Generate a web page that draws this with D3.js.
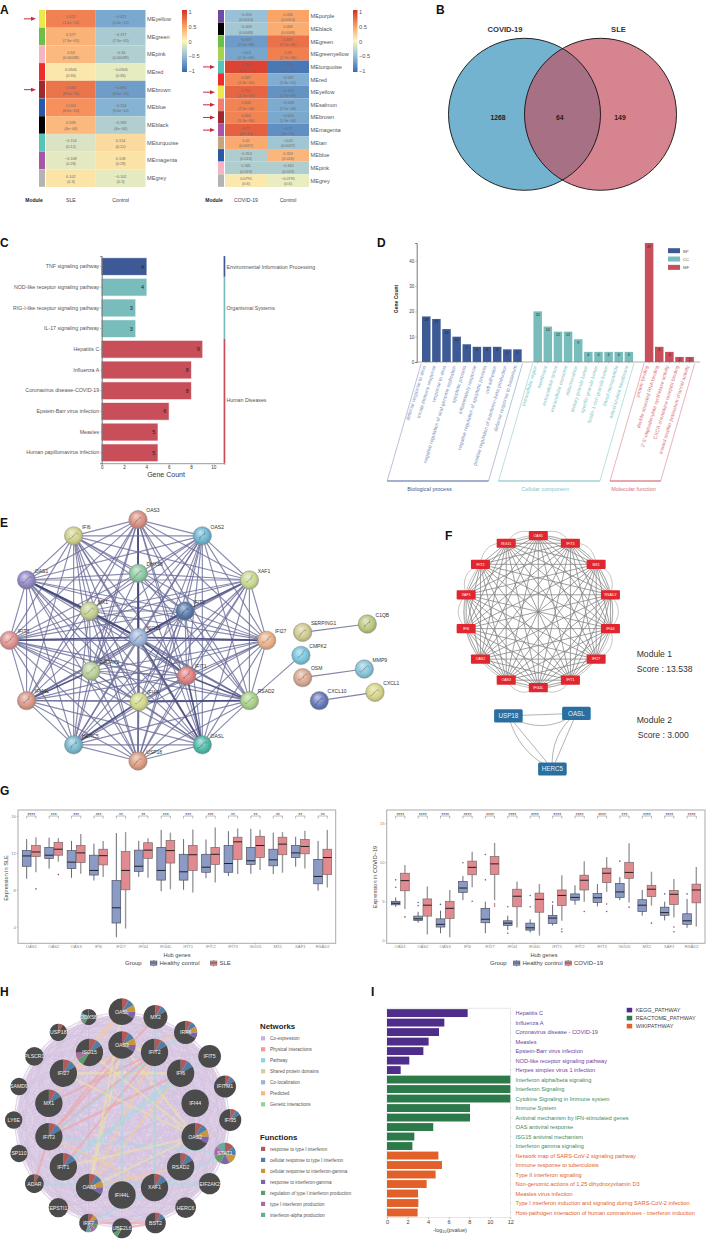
<!DOCTYPE html>
<html><head><meta charset="utf-8">
<style>html,body{margin:0;padding:0;background:#fff}svg{display:block}text{font-family:"Liberation Sans",Arial,sans-serif}</style>
<script src="https://cdn.jsdelivr.net/npm/d3@7/dist/d3.min.js"></script></head><body>
<svg id="c" width="707" height="1240"></svg>
<script>
// ---------- A
const slModules=["yellow","green","pink","red","brown","blue","black","turquoise","magenta","grey"];
const slR=[0.622,0.377,0.34,0.0906,0.684,0.554,0.339,-0.154,-0.108,0.102];
const slP=["1.4e−12","7.3e−05","0.00038","0.36","8.6e−16","8.6e−10","4e−04","0.12","0.28","0.3"];
const slArrows=["yellow","brown"];
const covModules=["purple","black","green","greenyellow","turquoise","red","yellow","salmon","brown","magenta","tan","blue","pink","grey"];
const covR=[-0.456,-0.409,-0.697,-0.63,0.906,0.587,0.752,0.608,0.616,0.77,0.42,-0.353,0.345,0.0795];
const covP=["0.0014","0.0048","7.5e−08","2.7e−06","1.9e−21","1.8e−05","1.7e−09","7.5e−06","5.3e−06","4e−10","0.0037","0.016","0.019","0.6"];
const covArrows=["turquoise","yellow","salmon","brown","magenta"];
const moduleColors={yellow:"#ece84a",green:"#6cc04a",pink:"#f6b3c4",red:"#ee2c2c",brown:"#9e2a2f",blue:"#2659ab",black:"#000",turquoise:"#54c4b6",magenta:"#a855a5",grey:"#b3b3b3",purple:"#6f4aa5",greenyellow:"#a6d24f",salmon:"#f27d72",tan:"#c9a27e"};
const corTicks=[1,0.5,0,-0.5,-1];
// ---------- B
const vennSets=["COVID-19","SLE"];
const vennCounts=[1268,64,149];
// ---------- C
const keggTerms=["TNF signaling pathway","NOD-like receptor signaling pathway","RIG-I-like receptor signaling pathway","IL-17 signaling pathway","Hepatitis C","Influenza A","Coronavirus disease-COVID-19","Epstein-Barr virus infection","Measles","Human papillomavirus infection"];
const keggCounts=[4,4,3,3,9,8,8,6,5,5];
const keggClassNames=["Environmental Information Processing","Organismal Systems","Human Diseases"];
const keggClassSizes=[1,3,6];
// ---------- D
const bpTerms=["defense response to virus","innate immune response","response to virus","negative regulation of viral genome replication","apoptotic process","inflammatory response","negative regulation of apoptotic process","cell adhesion","positive regulation of interferon-beta production","defense response to bacterium"];
const bpCounts=[18,17,13,10,7,6,6,6,5,5];
const ccTerms=["extracellular region","membrane","extracellular space","extracellular exosome","mitochondrion","tertiary granule lumen","specific granule lumen","ficolin-1-rich granule lumen","blood microparticle","mitochondrial membrane"];
const ccCounts=[20,14,12,12,9,4,4,4,4,4];
const mfTerms=["protein binding","double-stranded RNA binding","2'-5'-oligoadenylate synthetase activity","CXCR chemokine receptor binding","inward rectifier potassium channel activity"];
const mfCounts=[47,6,4,2,2];
// ---------- E
const eOuter=["OAS3","OAS2","XAF1","IFI27","RSAD2","OASL","USP18","HERC5","IFI44L","IFIT3","OAS1","IFI6"];
const eInner=["DHX58","IFIT2","IFIT1","IFI44","EIF2AK2","MX1"];
const eInnerLayoutX=[415,555,560,417,273,268];
const eInnerLayoutY=[220,333,527,605,513,333];
const eHub="ISG15";
const eStrong=[["OAS1","ISG15"],["MX1","ISG15"],["ISG15","IFIT1"],["IFIT1","RSAD2"],["IFIT3","ISG15"],["ISG15","IFI27"],["ISG15","IFIT2"],["OAS3","ISG15"],["IFIT1","OASL"],["OAS1","MX1"],["XAF1","IFIT2"],["DHX58","ISG15"],["EIF2AK2","IFI44L"],["IFI44","RSAD2"],["HERC5","IFI44"],["ISG15","OASL"]];
const eMissing=[["DHX58","IFI44L"],["DHX58","HERC5"],["EIF2AK2","XAF1"],["DHX58","IFIT1"],["DHX58","IFI27"],["OAS2","IFIT3"],["IFI6","RSAD2"]];
const eColors={OAS3:"#d89080",OAS2:"#6fb5d0",XAF1:"#c8d890",IFI27:"#e8b088",RSAD2:"#a8d088",OASL:"#50b8a8",USP18:"#dc9c80",HERC5:"#78b8cc",IFI44L:"#d89888",IFIT3:"#e09090",OAS1:"#9088c4",IFI6:"#cfd08a",DHX58:"#8cc8a0",IFIT2:"#5878a8",IFIT1:"#e08080",IFI44:"#d0d888",EIF2AK2:"#b8d098",MX1:"#c4d090",ISG15:"#9ab4d8",SERPING1:"#d0c890",C1QB:"#b8c880",CMPK2:"#78c4dc",OSM:"#d8a890",MMP9:"#88c4d8",CXCL1:"#d4d488",CXCL10:"#6878b8"};
const eSideNames=["SERPING1","C1QB","CMPK2","OSM","MMP9","CXCL1","CXCL10"];
const eSideLayoutX=[908,1102,903,908,1093,1125,958];
const eSideLayoutY=[397,372,466,533,507,577,602];
const eSideEdges=[["SERPING1","C1QB"],["OSM","MMP9"],["CXCL10","CXCL1"],["CMPK2","RSAD2"]];
// ---------- F
const fRing=["OAS1","IFIT3","MX1","RSAD2","IFI44","IFI27","IFIT1","IFI44L","OAS3","OAS2","IFI6","XAF1","IFIT2","ISG15"];
const fArcs=[[0,1],[13,0],[0,2],[13,1],[1,2],[1,3],[2,3],[2,4],[3,4],[3,5],[11,10],[12,10],[11,9],[12,11],[13,12],[6,7],[7,8],[6,8],[5,7],[8,10],[4,5]];
const fModule2=["USP18","OASL","HERC5"];
const fModule2X=[508.4,576.4,552.4];
const fModule2Y=[715.8,713.4,769];
const fModule2Edges=[[0,1,0],[0,1,22],[0,2,0],[0,2,16],[1,2,0],[1,2,16]];
// ---------- G
const hubGenes=["OAS1","OAS2","OAS3","IFI6","IFI27","IFI44","IFI44L","IFIT1","IFIT2","IFIT3","ISG15","MX1","XAF1","RSAD2"];
// [low whisker, q1, median, q3, high whisker]
const sleControl=[[9.2,10.55,11.67,12.25,13.5],[10.3,11.4,11.75,12.6,13.65],[9.3,10.3,11,12.25,13.3],[9,9.6,10.1,11.75,13],[2.85,4.4,6.05,9,14.15],[9.4,10,10.55,12.3,13.3],[7.85,9.05,10.1,12.6,14.5],[8,9.05,9.95,11.85,13.5],[9.25,9.9,10.45,11.85,13.45],[9.5,9.9,10.85,12.8,14.35],[9.75,10.75,11.15,12.6,14.6],[9.7,10.6,11.25,12.4,14.2],[10.5,11.5,12,12.8,13.75],[7.9,8.65,9.45,11.3,13.3]];
const sleCase=[[9.9,11.6,12.1,12.8,13.7],[11.05,11.75,12.4,13.15,13.6],[9.75,10.95,12,12.8,14.05],[9.4,10.7,11.7,12.4,13.3],[3.8,8,10.1,12.15,14.25],[9.3,11.4,12.3,13.1,13.6],[8.05,10.9,12.25,13.35,14.2],[7.7,10.1,11.8,12.8,14.55],[8.8,10.75,11.85,12.6,14.75],[9.7,11.3,13.2,13.7,14.65],[10.15,11.5,12.8,13.8,14.5],[9.85,11.8,12.95,13.7,14.25],[10.3,11.9,12.7,13.45,14.4],[8.25,9.65,11.5,12.4,14.5]];
const sleCaseOutliers=[[8.1],[9.65],[],[],[],[],[],[],[],[],[],[],[],[]];
const sleStars=["****","***","***","***","**","**","***","***","***","**","**","**","**","**"];
const covControl=[[4.3,4.55,4.75,5,5.5],[2.25,2.55,2.75,3.1,3.65],[0.9,1.7,2.05,2.75,3.8],[5.15,6.15,6.7,7.55,8.25],[0.9,2.25,2.7,4.1,4.95],[1.3,1.9,2.2,2.5,3.15],[1,1.3,1.6,2.2,2.7],[1.9,2.15,2.85,3.2,4.55],[4.55,5.15,5.5,5.95,7.05],[4.35,4.85,5.45,6,7.2],[5.15,5.5,6.2,7.3,8.1],[3.15,3.7,4.5,5.2,6.45],[2.55,3.2,3.55,4.25,4.95],[1.6,2.05,2.5,3.4,5.3]];
const covCase=[[4,6.35,7.65,8.6,9.65],[0.75,3.1,4.5,5.3,6.9],[0.4,2.8,4.1,5,6.45],[6.8,8.4,9.35,10.15,11.35],[5.15,8.45,9.8,10.75,12.5],[1.65,4.3,5.65,6.55,7.55],[0.6,3.6,5.25,6.05,7.2],[2.5,4.45,5.75,6.45,8.35],[4.95,6.45,7.7,8.35,10.15],[6.2,7.4,8.6,9.25,10.65],[4.85,7.95,8.7,10,12.45],[4.45,5.6,6.55,7.05,8.8],[2.95,4.6,5.9,6.4,7.85],[1.75,4.8,6.45,7.2,9.4]];
const covControlOutliers=[[7.75,6.8],[4.85,4.45],[4.6],[9.95],[11,7.75],[4.3,0.9],[5.75,4.3],[4.9],[],[],[10.15],[],[5.95],[5.95]];
const covCaseOutliers=[[3],[],[],[5],[4.65,4.4],[],[],[1.45,1.1],[3.7],[4.65,3.7],[4.25],[2.2],[1.7,1.1],[]];
const covStars=["****","****","****","****","****","****","****","****","****","****","***","****","****","****"];
// ---------- H
const hOuter=["OASL","MX2","IRF6","IFIT5","IFITM1","IFI35","STAT1","EIF2AK2","HERC6","BST2","UBE2L6","IRF7","EPSTI1","ADAR","SP110","LY6E","SAMD9","PLSCR1","USP18","DDX58"];
const hInner=["OAS3","IFIT2","IFI6","IFI44","OAS2","RSAD2","XAF1","IFI44L","OAS1","IFIT1","IFIT3","MX1","IFI27","ISG15"];
const hOuterScore=[40,36,35,34,33,33,32,32,31,31,30,28,29,28,26,26,26,28,26,24];
const hFunctions=["response to type I interferon","cellular response to type I interferon","cellular response to interferon-gamma","response to interferon-gamma","regulation of type I interferon production","type I interferon production","interferon-alpha production"];
const hNetworks=["Co-expression","Physical interactions","Pathway","Shared protein domains","Co-localization","Predicted","Genetic interactions"];
// shares per node: fn1, fn2, fn3, fn4, none, fn5, fn6, fn7, none
const hShares={OASL:[1,1,1,1,8,0,0,0,0],MX2:[1,1,0,0,10,0,0,0,0],IRF6:[1,1,1,1,8,0,0,0,0],STAT1:[1,1,1,1,0,1,1,1,0],IFI35:[1,1,0,0,10,0,0,0,0],IFITM1:[1,1,0,0,10,0,0,0,0],BST2:[1,1,0,0,10,0,0,0,0],IRF7:[1,0,1,1,0,1,1,1,5],DDX58:[0,0,0,0,7,1,1,1,2],USP18:[1,0,0,0,11,0,0,0,0],ADAR:[1,0,0,0,11,0,0,0,0],UBE2L6:[0,0,0,0,7,1,0,0,4],OAS3:[1,1,1,1,8,0,0,0,0],IFIT2:[1,1,0,0,10,0,0,0,0],IFI6:[1,1,0,0,10,0,0,0,0],OAS2:[1,1,1,1,8,0,0,0,0],RSAD2:[1,1,0,0,10,0,0,0,0],XAF1:[1,1,0,0,10,0,0,0,0],OAS1:[1,1,1,1,8,0,0,0,0],IFIT1:[1,1,0,0,10,0,0,0,0],IFIT3:[1,1,0,0,10,0,0,0,0],MX1:[1,1,0,0,10,0,0,0,0],IFI27:[1,1,0,0,10,0,0,0,0],ISG15:[1,1,0,0,5,1,1,0,3]};
const hHeavy=[["OAS3","OAS1",3],["OAS3","OAS2",3],["OAS3","IFIT3",1],["OAS3","IFIT2",3],["OASL","IFI27",5],["IFI27","IRF6",5],["IFI27","IFI6",3],["MX1","OASL",5],["IFIT3","MX2",1],["IFIT3","IFI6",1],["IFIT3","IFIT2",1],["MX1","IFIT2",1],["IFIT1","IFIT2",1],["IFIT1","IFI6",2],["IFIT3","STAT1",2],["IFI27","OAS2",3],["OAS1","OAS2",3],["OAS1","IFIT2",5],["OAS1","RSAD2",5],["ADAR","EIF2AK2",2],["IFIT1","OAS2",3],["OASL","OAS1",3],["IFI6","OAS1",5],["ISG15","OAS2",3],["MX2","XAF1",2],["IRF6","IFIT3",2],["IRF7","BST2",1],["UBE2L6","BST2",1],["OAS3","IFI44L",2],["IFIT5","IFIT1",2],["ADAR","IFIT3",1],["STAT1","IRF7",2],["XAF1","IFIT3",5]];
// ---------- I
const keggPathways=["Hepatitis C","Influenza A","Coronavirus disease - COVID-19","Measles","Epstein-Barr virus infection","NOD-like receptor signaling pathway","Herpes simplex virus 1 infection"];
const keggLogP=[7.85,5.58,5.06,4.05,3.54,2.17,1.33];
const reactomePathways=["Interferon alpha/beta signaling","Interferon Signaling","Cytokine Signaling in Immune system","Immune System","Antiviral mechanism by IFN-stimulated genes","OAS antiviral response","ISG15 antiviral mechanism","Interferon gamma signaling"];
const reactomeLogP=[12,12,12,8.08,8.08,4.5,2.66,2.47];
const wikiPathways=["Network map of SARS-CoV-2 signaling pathway","Immune response to tuberculosis","Type II interferon signaling","Non-genomic actions of 1,25 dihydroxyvitamin D3","Measles virus infection","Type I interferon induction and signaling during SARS-CoV-2 infection","Host-pathogen interaction of human coronaviruses - interferon induction"];
const wikiLogP=[5,5.35,4.73,3.86,3.02,3.05,2.98];
const pathwaySources=["KEGG_PATHWAY","REACTOME_PATHWAY","WIKIPATHWAY"];

const svg=d3.select("#c");
const defs=svg.append("defs");
function txt(g,x,y,s,size,fill,o={}){const t=g.append("text").attr("x",x).attr("y",y).attr("font-size",size).attr("fill",fill||"#333").text(s);
 if(o.anchor)t.attr("text-anchor",o.anchor);if(o.weight)t.attr("font-weight",o.weight);if(o.rotate!=null)t.attr("transform",`rotate(${o.rotate},${x},${y})`);return t;}
function styleAxis(a,size,col,lineCol){a.selectAll("text").attr("font-size",size).attr("fill",col).attr("font-family",'"Liberation Sans",Arial,sans-serif');a.selectAll("line").attr("stroke",lineCol||"#777").attr("stroke-width",.5);a.selectAll("path").attr("stroke",lineCol||"#777");}
// panel letters
[["A",0,14],["B",436,14],["C",0,247],["D",377,247],["E",0,527],["F",445,540],["G",0,795],["H",0,996],["I",371,996]].forEach(d=>txt(svg,d[1],d[2],d[0],12,"#111",{weight:"bold"}));

// ---------- Panel A
const corColor=d3.scaleLinear().domain([-1,-.5,0,.5,1]).range(["#3a68ad","#8fbcd8","#fbf6bb","#fb9c60","#d32f27"]);
function heat(mods,rs,ps,opt){
 const g=svg.append("g");
 const y=d3.scaleBand().domain(mods).range([10,187]);
 const x=d3.scaleBand().domain(opt.cols).range(opt.cells);
 g.selectAll(".s").data(mods).join("rect").attr("x",opt.strip[0]).attr("width",opt.strip[1]-opt.strip[0]).attr("y",d=>y(d)).attr("height",y.bandwidth()-.2).attr("fill",d=>moduleColors[d]);
 mods.forEach((m,i)=>{
  opt.cols.forEach((c,j)=>{
   const v=j===0?rs[i]:-rs[i];
   const colorV=(opt.pale&&opt.pale.includes(m))?-Math.abs(v):v;
   g.append("rect").attr("x",x(c)).attr("y",y(m)).attr("width",x.bandwidth()).attr("height",y.bandwidth()).attr("fill",corColor(colorV));
   const cx=x(c)+x.bandwidth()/2, cy=y(m)+y.bandwidth()/2;
   txt(g,cx,cy-.6,String(v).replace("-","−"),3.8,"#6b6b6b",{anchor:"middle"});
   txt(g,cx,cy+(y.bandwidth()>15?5:4.7),"("+ps[i]+")",3.8,"#6b6b6b",{anchor:"middle"});
  });
  txt(g,opt.cells[1]+1.5,y(m)+y.bandwidth()/2+2,"ME"+m,5.6,"#555");
 });
 opt.arrows.forEach(m=>{const yy=y(m)+y.bandwidth()/2,x1=opt.arrowX;
  g.append("path").attr("d",d3.line()([[x1,yy],[x1+9,yy]])).attr("stroke","#c8283c").attr("stroke-width",1);
  g.append("path").attr("d",d3.line()([[x1+7,yy-2],[x1+12,yy],[x1+7,yy+2]])).attr("fill","#c8283c");});
 txt(g,opt.titles[0],202,"Module",5,"#222",{anchor:"middle",weight:"bold"});
 opt.cols.forEach((c,j)=>txt(g,x(c)+x.bandwidth()/2,202,c,5.2,"#444",{anchor:"middle"}));
 const cb=opt.bar,id="cb"+Math.round(opt.bar[0]);
 const gr=defs.append("linearGradient").attr("id",id).attr("x1",0).attr("x2",0).attr("y1",0).attr("y2",1);
 d3.range(0,1.01,.1).forEach(t=>gr.append("stop").attr("offset",t).attr("stop-color",corColor(1-2*t)));
 const cy=d3.scaleLinear().domain([1,-1]).range([12,71]);
 g.append("rect").attr("x",cb[0]).attr("y",cy(1)-2).attr("width",cb[1]-cb[0]).attr("height",cy(-1)-cy(1)+3).attr("fill",`url(#${id})`);
 corTicks.forEach(t=>txt(g,cb[1]+1.5,cy(t)+2,String(t).replace("-","−"),5.6,"#555"));
}
heat(slModules,slR,slP,{cols:["SLE","Control"],cells:[46,145.5],strip:[39,45],arrows:slArrows,arrowX:24,titles:[34],bar:[182,187]});
heat(covModules,covR,covP,{cols:["COVID-19","Control"],cells:[225,309],strip:[218,224],arrows:covArrows,arrowX:203,titles:[214],bar:[353,357.5],pale:["pink"]});

// ---------- Panel B
{const g=svg.append("g");
 const vx=d3.scalePoint().domain(vennSets).range([524.5,600.5]);
 const cy=114.3,r=76;
 defs.append("clipPath").attr("id","vclip").append("circle").attr("cx",vx("COVID-19")).attr("cy",cy).attr("r",r);
 g.append("circle").attr("cx",vx("COVID-19")).attr("cy",cy).attr("r",r).attr("fill","#74b3d0");
 g.append("circle").attr("cx",vx("SLE")).attr("cy",cy).attr("r",r).attr("fill","#d6848f");
 g.append("circle").attr("cx",vx("SLE")).attr("cy",cy).attr("r",r).attr("fill","#a87085").attr("clip-path","url(#vclip)");
 vennSets.forEach(s=>g.append("circle").attr("cx",vx(s)).attr("cy",cy).attr("r",r).attr("fill","none").attr("stroke","#111").attr("stroke-width",.9));
 txt(g,505,31.5,vennSets[0],7.6,"#333",{anchor:"middle",weight:"bold"});
 txt(g,618.5,31.5,vennSets[1],7.6,"#333",{anchor:"middle",weight:"bold"});
 [498,559.7,620].forEach((x,i)=>txt(g,x,120,vennCounts[i],6.8,"#222",{anchor:"middle",weight:"bold"}));
}

// ---------- Panel C
const classColors=["#3d5a96","#78bcbc","#c84f5a"];
{const g=svg.append("g");
 const x=d3.scaleLinear().domain([0,11]).range([101.7,224.5]);
 const y=d3.scaleBand().domain(keggTerms).range([256.1,463.2]).paddingInner(.19).paddingOuter(.1);
 const classOf=[];keggClassSizes.forEach((n,i)=>d3.range(n).forEach(()=>classOf.push(i)));
 keggTerms.forEach((t,i)=>{
  g.append("rect").attr("x",x(0)).attr("y",y(t)).attr("width",x(keggCounts[i])-x(0)).attr("height",y.bandwidth()).attr("fill",classColors[classOf[i]]).attr("stroke",classColors[classOf[i]]).attr("stroke-opacity",.35).attr("stroke-width",1);
  txt(g,x(keggCounts[i])-3.8,y(t)+y.bandwidth()/2+2,keggCounts[i],5.5,"#222",{anchor:"middle"});
 });
 const ax=g.append("g").attr("transform","translate(0,463.2)").call(d3.axisBottom(x).tickValues([0,2,4,6,8,10]).tickSize(1.5).tickPadding(1.5));
 styleAxis(ax,4.6,"#333","#999");
 const ay=g.append("g").attr("transform",`translate(${x(0)},0)`).call(d3.axisLeft(y).tickSize(1.5).tickPadding(1));
 styleAxis(ay,5.25,"#555","#777");
 let start=0;const st=(463.2-256.1)/10;
 keggClassSizes.forEach((n,i)=>{
  const y0=256.1+start*st,y1=y0+n*st;
  g.append("rect").attr("x",223.6).attr("y",y0).attr("width",1.7).attr("height",y1-y0).attr("fill",classColors[i]);
  txt(g,226.5,[268.5,309.5,402][i],keggClassNames[i],5.25,"#555");
  start+=n;});
 txt(g,166,477,"Gene Count",7,"#333",{anchor:"middle"});
}

// ---------- Panel D
{const g=svg.append("g");
 const groups=[{t:bpTerms,c:bpCounts,col:"#3d5a96",lab:"#7b8fbd",name:"Biological process",leg:"BP",nameX:429.5},{t:ccTerms,c:ccCounts,col:"#78bcbc",lab:"#7fc6c6",name:"Cellular component",leg:"CC",nameX:545},{t:mfTerms,c:mfCounts,col:"#c84f5a",lab:"#d8717c",name:"Molecular function",leg:"MF",nameX:633.5}];
 const slots=[...bpTerms," ",...ccTerms,"  ",...mfTerms];
 const x=d3.scaleBand().domain(slots).range([421.2,694.7]).paddingInner(.16).paddingOuter(.08);
 const y=d3.scaleLinear().domain([0,47]).range([362,243]);
 groups.forEach(G=>{
  G.t.forEach((t,i)=>{
   const cx=x(t)+x.bandwidth()/2;
   g.append("rect").attr("x",x(t)).attr("y",y(G.c[i])).attr("width",x.bandwidth()).attr("height",y(0)-y(G.c[i])).attr("fill",G.col);
   txt(g,cx,y(G.c[i])+4.5,G.c[i],3.6,"#222",{anchor:"middle"});
   g.append("line").attr("x1",cx).attr("x2",cx).attr("y1",362).attr("y2",363.5).attr("stroke","#888").attr("stroke-width",.4);
   txt(g,cx-.5,366,t,5,G.lab,{anchor:"end",rotate:-73});
  });
  const a=x(G.t[0])-.8,b=x(G.t[G.t.length-1])+x.bandwidth()+.8,dx=34,h=481;
  g.append("path").attr("d",d3.line()([[a,363.5],[a-dx,h],[b-dx,h],[b,363.5]])).attr("fill","none").attr("stroke",G.lab).attr("stroke-width",.55);
  g.append("line").attr("x1",a-dx).attr("x2",b-dx).attr("y1",h).attr("y2",h).attr("stroke",G.col).attr("stroke-width",.7);
  txt(g,G.nameX,491,G.name,5.5,G.col==="#3d5a96"?"#3d5a96":G.lab,{anchor:"middle"});
 });
 const ay=g.append("g").attr("transform","translate(416.7,0)").call(d3.axisLeft(y).tickValues([0,10,20,30,40]).tickSize(1.5).tickPadding(1));
 styleAxis(ay,4.5,"#444","#777");
 g.append("line").attr("x1",416.7).attr("x2",700).attr("y1",362).attr("y2",362).attr("stroke","#777").attr("stroke-width",.6);
 txt(g,397.5,299,"Gene Count",5,"#222",{anchor:"middle",weight:"bold",rotate:-90});
 const ly=d3.scaleBand().domain(groups.map(d=>d.leg)).range([247,272]);
 groups.forEach(G=>{g.append("rect").attr("x",668).attr("y",ly(G.leg)+1.2).attr("width",12).attr("height",5).attr("fill",G.col);
  txt(g,683,ly(G.leg)+5.8,G.leg,4.2,"#555");});
}

// ---------- Panel E
{const g=svg.append("g");
 const lx=d3.scaleLinear().domain([0,1240]).range([0,413.3]);
 const ly=d3.scaleLinear().domain([0,870]).range([500,790]);
 const pos={};
 const ang=d3.scaleLinear().domain([0,1]).range([0,2*Math.PI]);
 eOuter.forEach((n,i)=>{const a=ang(i/eOuter.length);pos[n]=[lx(414+386*Math.sin(a)),ly(421-362*Math.cos(a))];});
 eInner.forEach((n,i)=>{pos[n]=[lx(eInnerLayoutX[i]),ly(eInnerLayoutY[i])];});
 pos[eHub]=[lx(415),ly(412)];
 eSideNames.forEach((n,i)=>pos[n]=[lx(eSideLayoutX[i]),ly(eSideLayoutY[i])]);
 const core=[...eOuter,...eInner,eHub];
 const key=(a,b)=>[a,b].sort().join("|");
 const miss=new Set(eMissing.map(d=>key(d[0],d[1]))),strong=new Set(eStrong.map(d=>key(d[0],d[1])));
 core.forEach((a,i)=>core.slice(i+1).forEach(b=>{
  if(miss.has(key(a,b)))return;
  const s=strong.has(key(a,b));
  g.append("line").attr("x1",pos[a][0]).attr("y1",pos[a][1]).attr("x2",pos[b][0]).attr("y2",pos[b][1]).attr("stroke",s?"#45487a":"#6a6d98").attr("stroke-opacity",s?.9:.8).attr("stroke-width",s?1.7:1.15);
 }));
 eSideEdges.forEach(([a,b])=>g.append("line").attr("x1",pos[a][0]).attr("y1",pos[a][1]).attr("x2",pos[b][0]).attr("y2",pos[b][1]).attr("stroke","#6a6d98").attr("stroke-opacity",.85).attr("stroke-width",1.1));
 Object.keys(eColors).forEach((n,i)=>{
  const col=eColors[n],p=pos[n];
  const gr=defs.append("radialGradient").attr("id","e"+i).attr("cx","50%").attr("cy","50%").attr("fx","38%").attr("fy","28%").attr("r","58%");
  gr.append("stop").attr("offset","0").attr("stop-color",d3.interpolateRgb(col,"#fff")(.6));
  gr.append("stop").attr("offset",".65").attr("stop-color",col);
  gr.append("stop").attr("offset","1").attr("stop-color",d3.color(col).darker(.8));
  g.append("circle").attr("cx",p[0]).attr("cy",p[1]).attr("r",9.2).attr("fill",`url(#e${i})`).attr("stroke","#8a8a8a").attr("stroke-width",.5);
  const s=d3.range(7).map(k=>[p[0]-4+k*1.3+Math.sin(k*1.7+i)*1.4,p[1]+3-k+Math.cos(k*2.3+i)*2]);
  g.append("path").attr("d",d3.line().curve(d3.curveBasis)(s)).attr("fill","none").attr("stroke",d3.color(col).darker(1.2)).attr("stroke-width",.7).attr("opacity",.85);
  txt(g,p[0]+8.3,p[1]-7.2,n,5,"#333");
 });
}

// ---------- Panel F
{const g=svg.append("g");
 const a=d3.scaleLinear().domain([0,fRing.length]).range([0,2*Math.PI]);
 const cx=538.3,cy=611.7,rx=74,ry=76;
 const p=fRing.map((n,i)=>[cx+rx*Math.sin(a(i)),cy-ry*Math.cos(a(i))]);
 p.forEach((u,i)=>p.slice(i+1).forEach(v=>g.append("line").attr("x1",u[0]).attr("y1",u[1]).attr("x2",v[0]).attr("y2",v[1]).attr("stroke","#808080").attr("stroke-width",.75)));
 fArcs.forEach(([i,j])=>{const u=p[i],v=p[j],mx=(u[0]+v[0])/2,my=(u[1]+v[1])/2;
  const dx=mx-cx,dy=my-cy,l=Math.hypot(dx,dy),b=16;
  g.append("path").attr("d",`M${u[0]},${u[1]}Q${mx+dx/l*b},${my+dy/l*b} ${v[0]},${v[1]}`).attr("fill","none").attr("stroke","#8c8c8c").attr("stroke-width",.5);});
 fRing.forEach((n,i)=>{g.append("rect").attr("x",p[i][0]-9.5).attr("y",p[i][1]-4.6).attr("width",19).attr("height",9.2).attr("rx",.8).attr("fill","#e0262e");
  txt(g,p[i][0],p[i][1]+1.3,n,3.6,"#fff",{anchor:"middle"});});
 fModule2Edges.forEach(([i,j,b])=>{const u=[fModule2X[i],fModule2Y[i]],v=[fModule2X[j],fModule2Y[j]],mx=(u[0]+v[0])/2,my=(u[1]+v[1])/2,dx=v[0]-u[0],dy=v[1]-u[1],l=Math.hypot(dx,dy);
  g.append("path").attr("d",`M${u[0]},${u[1]}Q${mx-dy/l*b},${my+dx/l*b} ${v[0]},${v[1]}`).attr("fill","none").attr("stroke","#666").attr("stroke-width",.5);});
 fModule2.forEach((n,i)=>{g.append("rect").attr("x",fModule2X[i]-14.3).attr("y",fModule2Y[i]-6.6).attr("width",28.6).attr("height",13.2).attr("rx",1.5).attr("fill","#2a6f9f");
  txt(g,fModule2X[i],fModule2Y[i]+2.3,n,6.3,"#e8f0f6",{anchor:"middle"});});
 txt(g,636.7,656.5,"Module 1",8.6,"#333");txt(g,636.7,672,"Score : 13.538",8.6,"#333");
 txt(g,636.7,723,"Module 2",8.6,"#333");txt(g,637.7,738,"Score : 3.000",8.6,"#333");
}

// ---------- Panel G
const boxCtl={fill:"#8b9bc5",stroke:"#4d5060",wh:"#555a66",wl:.9},boxCase={fill:"#e18a90",stroke:"#7a6a6a",wh:"#9a9a9a",wl:1.4};
function boxes(o){
 const g=svg.append("g");
 const x=d3.scaleBand().domain(hubGenes).range(o.xr).paddingInner(.2).paddingOuter(.1);
 const y=d3.scaleLinear().domain(o.yd).range(o.yr);
 const sub=d3.scaleBand().domain(["c","d"]).range([0,x.bandwidth()]).paddingInner(.06);
 hubGenes.forEach((gene,i)=>{
  [["c",o.ctl[i],boxCtl,(o.ctlOut||[])[i]],["d",o.cas[i],boxCase,(o.casOut||[])[i]]].forEach(([k,s,st,out])=>{
   const X=x(gene)+sub(k),w=sub.bandwidth(),c=X+w/2;
   g.append("line").attr("x1",c).attr("x2",c).attr("y1",y(s[0])).attr("y2",y(s[4])).attr("stroke",st.wh).attr("stroke-width",st.wl);
   g.append("rect").attr("x",X).attr("y",y(s[3])).attr("width",w).attr("height",y(s[1])-y(s[3])).attr("fill",st.fill).attr("stroke",st.stroke).attr("stroke-width",.7);
   g.append("line").attr("x1",X).attr("x2",X+w).attr("y1",y(s[2])).attr("y2",y(s[2])).attr("stroke","#222").attr("stroke-width",1);
   (out||[]).forEach(v=>g.append("circle").attr("cx",c).attr("cy",y(v)).attr("r",.8).attr("fill",k==="c"?"#5d6b95":"#b04a5a"));
  });
  const a=x(gene)+sub("c")+sub.bandwidth()/2,b=x(gene)+sub("d")+sub.bandwidth()/2;
  g.append("path").attr("d",d3.line()([[a,818.6],[a,816],[b,816],[b,818.6]])).attr("fill","none").attr("stroke","#555").attr("stroke-width",.4);
  txt(g,(a+b)/2,817.2,o.stars[i],5,"#444",{anchor:"middle"});
 });
 g.append("rect").attr("x",o.frame[0]).attr("y",810).attr("width",o.frame[1]-o.frame[0]).attr("height",133.3).attr("fill","none").attr("stroke","#aaa").attr("stroke-width",1);
 const ax=g.append("g").attr("transform","translate(0,943.3)").call(d3.axisBottom(x).tickSize(1.2).tickPadding(1));
 ax.select("path").remove();styleAxis(ax,4.2,"#888","#888");
 const ay=g.append("g").attr("transform",`translate(${o.frame[0]},0)`).call(d3.axisLeft(y).tickValues(o.ticks).tickFormat(d3.format("d")).tickSize(1.2).tickPadding(1));
 ay.select("path").remove();styleAxis(ay,4.2,"#888","#888");
 txt(g,o.yLabX,o.yLabY,o.yLab,5.6,"#444",{anchor:"middle",rotate:-90});
 txt(g,o.hubX,957,"Hub genes",5.6,"#444",{anchor:"middle"});
 txt(g,o.legend[0],964.8,"Group",6,"#444");
 [[o.legend[1],boxCtl,"Healthy control"],[o.legend[2],boxCase,o.caseName]].forEach(([lx,st,s])=>{
  g.append("line").attr("x1",lx+3.2).attr("x2",lx+3.2).attr("y1",960).attr("y2",966.5).attr("stroke","#555").attr("stroke-width",.6);
  g.append("rect").attr("x",lx).attr("y",961).attr("width",6.4).attr("height",4.2).attr("fill",st.fill).attr("stroke",st.stroke).attr("stroke-width",.6);
  g.append("line").attr("x1",lx).attr("x2",lx+6.4).attr("y1",963).attr("y2",963).attr("stroke","#222").attr("stroke-width",.6);
  txt(g,lx+9,964.8,s,6,"#444");});
}
boxes({xr:[20.1,333.9],yd:[4,16],yr:[926.7,816],ctl:sleControl,cas:sleCase,casOut:sleCaseOutliers,stars:sleStars,frame:[18,335.7],ticks:[4,8,12,16],yLab:"Expression in SLE",yLabX:7.5,yLabY:878,hubX:177,legend:[125,150.5,210.5],caseName:"SLE"});
boxes({xr:[389.1,702.9],yd:[0,15],yr:[940.3,823.3],ctl:covControl,cas:covCase,ctlOut:covControlOutliers,casOut:covCaseOutliers,stars:covStars,frame:[386.7,705],ticks:[0,5,10,15],yLab:"Expression in COVID−19",yLabX:377,yLabY:877,hubX:544,legend:[490,513.5,565],caseName:"COVID−19"});

// ---------- Panel H
{const g=svg.append("g");
 const fnCol=["#b05a5a","#4f7ea6","#c8963c","#7a66a8","#5aa066","#b066a8","#66aaa0"];
 const netCol=["#d3c0de","#efa6a6","#a6dbe4","#ece2a8","#9ab3dc","#f5cb9c","#8fd49a"];
 const cx=122,cy=1120,Ro=108.3,Ri=75;
 const rScale=d3.scaleLinear().domain([0,41]).range([0,13.7]);
 const ao=d3.scaleLinear().domain([0,hOuter.length]).range([0,2*Math.PI]),ai=d3.scaleLinear().domain([0,hInner.length]).range([0,2*Math.PI]);
 const pos={};
 hOuter.forEach((n,i)=>pos[n]={x:cx+Ro*Math.sin(ao(i)),y:cy-Ro*Math.cos(ao(i)),r:rScale(hOuterScore[i])});
 hInner.forEach((n,i)=>pos[n]={x:cx+Ri*Math.sin(ai(i)),y:cy-Ri*Math.cos(ai(i)),r:rScale(41)});
 const names=Object.keys(pos);
 g.append("circle").attr("cx",cx).attr("cy",cy).attr("r",104).attr("fill","#e2d4e9");
 names.forEach((a,i)=>names.slice(i+1).forEach(b=>g.append("line").attr("x1",pos[a].x).attr("y1",pos[a].y).attr("x2",pos[b].x).attr("y2",pos[b].y).attr("stroke",netCol[0]).attr("stroke-opacity",.4).attr("stroke-width",1.1)));
 hOuter.forEach((a,i)=>{[1,2,3].forEach(s=>{const b=hOuter[(i+s)%20];g.append("line").attr("x1",pos[a].x).attr("y1",pos[a].y).attr("x2",pos[b].x).attr("y2",pos[b].y).attr("stroke",netCol[0]).attr("stroke-opacity",.45).attr("stroke-width",1.2);});});
 hHeavy.forEach(([a,b,t])=>g.append("line").attr("x1",pos[a].x).attr("y1",pos[a].y).attr("x2",pos[b].x).attr("y2",pos[b].y).attr("stroke",netCol[t]).attr("stroke-opacity",.62).attr("stroke-width",2.3));
 const pat=defs.append("pattern").attr("id","hatch").attr("width",1.6).attr("height",1.6).attr("patternUnits","userSpaceOnUse").attr("patternTransform","rotate(45)");
 pat.append("rect").attr("width",1.6).attr("height",1.6).attr("fill","#464646");
 pat.append("rect").attr("width",.5).attr("height",1.6).attr("fill","#555");
 const sliceCols=[fnCol[0],fnCol[1],fnCol[2],fnCol[3],"url(#hatch)",fnCol[4],fnCol[5],fnCol[6],"url(#hatch)"];
 const pie=d3.pie().sort(null);
 names.forEach(n=>{const P=pos[n];const sh=hShares[n]||[0,0,0,0,1,0,0,0,0];
  const arc=d3.arc().innerRadius(0).outerRadius(P.r);
  const gg=g.append("g").attr("transform",`translate(${P.x},${P.y})`);
  pie(sh).forEach((d,i)=>{if(d.value>0)gg.append("path").attr("d",arc(d)).attr("fill",sliceCols[i]);});
  txt(gg,0,1.9,n,5.2,"#f0f0f0",{anchor:"middle"});
 });
 txt(g,260,1029,"Networks",7.8,"#222",{weight:"bold"});
 txt(g,260,1139.5,"Functions",7.8,"#222",{weight:"bold"});
 const legNet=["#c9b3d6","#ef9a9a","#8fd3dc","#d4cf9a","#9ab3dc","#f5b880","#8fd49a"];
 const ln=d3.scaleBand().domain(hNetworks).range([1033,1110]);
 hNetworks.forEach((n,i)=>{g.append("rect").attr("x",261).attr("y",ln(n)+3.2).attr("width",4.2).attr("height",4.2).attr("fill",legNet[i]);txt(g,270,ln(n)+7,n,4.6,"#555");});
 const lf=d3.scaleBand().domain(hFunctions).range([1143.6,1220.6]);
 hFunctions.forEach((n,i)=>{g.append("rect").attr("x",261).attr("y",lf(n)+3.2).attr("width",4.2).attr("height",4.2).attr("fill",fnCol[i]);txt(g,270,lf(n)+7,n,4.6,"#555");});
}

// ---------- Panel I
{const g=svg.append("g");
 const cols=["#4f2d8a","#2c7a49","#e2612b"],labs=["#6a3fa0","#3f8a5c","#e2612b"];
 const sets=[[keggPathways,keggLogP],[reactomePathways,reactomeLogP],[wikiPathways,wikiLogP]];
 const x=d3.scaleLinear().domain([0,12]).range([387,510.3]);
 const keys=sets.flatMap((s,k)=>s[0].map(t=>k+":"+t));
 const y=d3.scaleBand().domain(keys).range([1008.2,1217.4]).paddingInner(.17).paddingOuter(.1);
 g.append("rect").attr("x",x(0)).attr("y",1008.2).attr("width",x(12)-x(0)).attr("height",209.2).attr("fill","none").attr("stroke","#ddd").attr("stroke-width",.7);
 sets.forEach((s,k)=>s[0].forEach((t,i)=>{const yy=y(k+":"+t);
  g.append("rect").attr("x",x(0)).attr("y",yy).attr("width",x(s[1][i])-x(0)).attr("height",y.bandwidth()).attr("fill",cols[k]);
  txt(g,515.5,yy+y.bandwidth()/2+2,t,5.65,labs[k]);
  g.append("line").attr("x1",x(12)).attr("x2",x(12)+1.5).attr("y1",yy+y.bandwidth()/2).attr("y2",yy+y.bandwidth()/2).attr("stroke","#bbb").attr("stroke-width",.4);
 }));
 const ax=g.append("g").attr("transform","translate(0,1217.4)").call(d3.axisBottom(x).tickValues([0,2,4,6,8,10,12]).tickSize(1.5).tickPadding(1));
 ax.select("path").remove();styleAxis(ax,5.6,"#444","#777");
 const t=txt(g,450,1232,"-log",5.6,"#444",{anchor:"middle"});
 t.append("tspan").attr("font-size",3.8).attr("dy",1.2).text("10");
 t.append("tspan").attr("dy",-1.2).text("(pvalue)");
 const ly=d3.scaleBand().domain(pathwaySources).range([1006,1030]);
 pathwaySources.forEach((n,i)=>{g.append("rect").attr("x",626.7).attr("y",ly(n)+1.8).attr("width",5.5).attr("height",4.6).attr("fill",cols[i]);txt(g,635.7,ly(n)+6,n,5.5,"#444");});
}
</script></body></html>
